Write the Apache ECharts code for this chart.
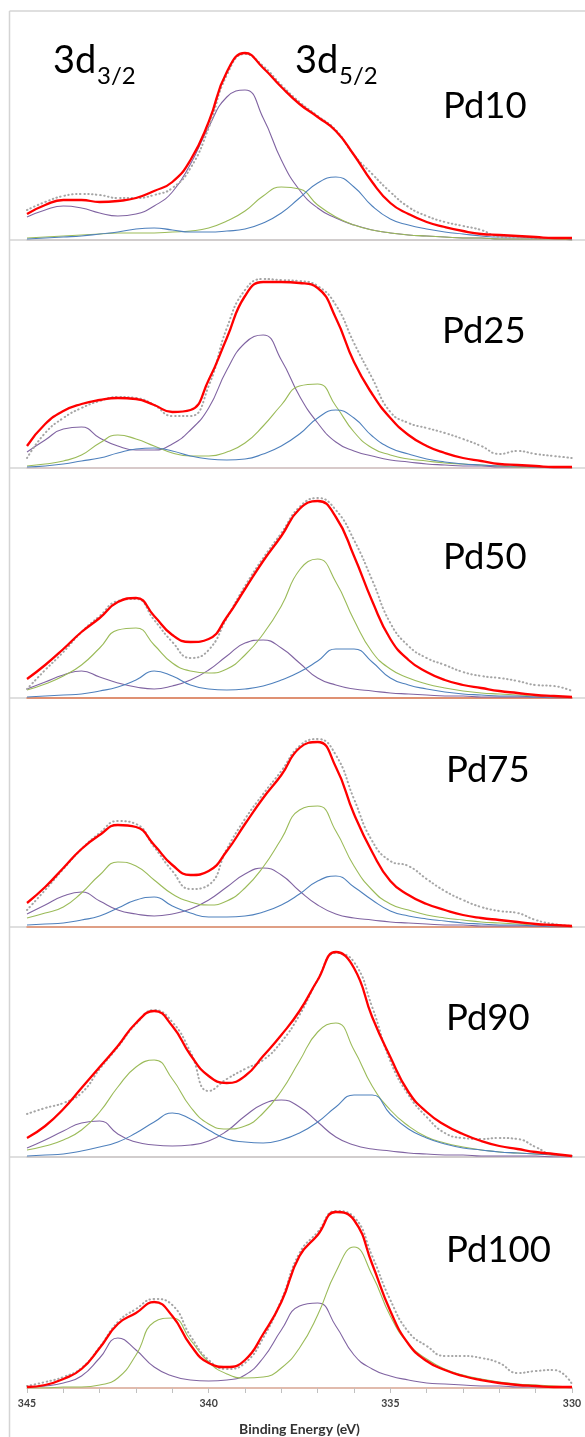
<!DOCTYPE html>
<html><head><meta charset="utf-8">
<script src="https://cdn.jsdelivr.net/npm/echarts@6/dist/echarts.min.js"></script>
<style>html,body{margin:0;padding:0;background:#fff}#c{width:585px;height:1437px}</style>
</head><body><div id="c"></div>
<script>
// Binding energy grid (eV)
const energy = [345,344.5,344,343.5,343,342.5,342,341.5,341,340.5,340,339.5,339,338.5,338,337.5,337,336.5,336,335.5,335,334.5,334,333.5,333,332.5,332,331.5,331,330.5,330];
const panelLabels = ['Pd10','Pd25','Pd50','Pd75','Pd90','Pd100'];

// Pd10
const pd10_fit    = [26,35,40,40,38,39,42,49,58,80,118,168,187,172,153,136,123,109,85,58,37,26,18,13,9,6,5,4,3,2,2];
const pd10_data   = [30,38,44,46,45,42,42,45,52,72,112,165,186,174,155,138,124,110,85,66,48,33,24,18,14,10,3,2,2,2,2];
const pd10_purple = [23,30,34,32,27,24,26,34,48,76,113,143,150,122,80,50,32,22,15,10,7,5,4,3,2,2,1,1,1,1,0];
const pd10_green  = [2,3,4,5,6,7,7,7,8,9,12,19,29,44,53,51,35,23,15,10,7,5,4,3,2,2,1,1,1,1,0];
const pd10_blue   = [1,2,3,4,6,8,11,12,10,8,8,9,11,17,27,42,57,63,53,34,21,15,11,8,6,4,3,3,2,2,1];
// Pd25
const pd25_fit    = [22,44,57,64,68,70,69,63,56,58,88,130,172,186,186,185,180,150,106,74,50,33,22,15,10,7,4,3,2,1,1];
const pd25_data   = [10,35,50,60,67,71,70,63,52,52,82,140,178,189,188,187,182,163,125,90,56,45,40,35,29,22,14,17,14,12,10];
const pd25_purple = [16,28,39,41,30,22,18,18,24,38,60,98,125,133,108,72,45,26,17,12,8,6,4,3,2,2,1,1,1,0,0];
const pd25_green  = [2,4,7,13,25,33,29,22,15,12,12,16,25,42,63,82,84,62,36,20,13,9,7,5,4,3,2,1,1,1,0];
const pd25_blue   = [1,2,4,7,10,15,19,20,17,12,9,8,9,14,22,34,50,58,50,32,20,14,9,6,4,3,2,2,1,1,1];
// Pd50
const pd50_fit    = [19,33,49,66,80,96,100,82,63,56,59,81,109,137,162,189,197,181,142,97,59,38,26,18,13,10,7,5,3,2,1];
const pd50_data   = [9,28,46,66,82,97,99,78,56,40,48,80,112,140,165,191,200,188,158,118,75,52,40,33,26,22,20,17,13,12,7];
const pd50_purple = [9,16,23,27,21,15,11,9,12,18,28,42,55,58,50,35,20,13,9,7,5,4,3,2,2,1,1,1,1,0,0];
const pd50_green  = [8,14,22,33,50,68,70,53,35,27,25,29,43,64,92,128,139,116,78,46,29,20,14,10,7,5,4,3,2,1,1];
const pd50_blue   = [1,2,3,4,7,11,18,27,22,13,9,8,9,12,18,26,37,49,49,36,20,13,9,6,4,3,2,2,1,1,1];
// Pd75
const pd75_fit    = [24,40,59,78,92,102,100,82,62,52,56,76,103,129,152,179,185,160,113,75,46,32,23,17,12,9,7,5,3,2,1];
const pd75_data   = [17,37,58,78,94,106,103,80,56,38,42,78,108,133,156,181,188,172,128,86,66,61,48,36,27,20,16,14,7,3,1];
const pd75_purple = [13,22,31,35,26,17,13,11,13,18,27,40,53,59,52,36,22,13,9,7,5,4,3,2,2,1,1,1,1,0,0];
const pd75_green  = [9,14,20,34,52,65,61,47,33,25,22,26,39,60,88,117,121,96,61,37,23,17,12,9,7,5,4,3,2,1,1];
const pd75_blue   = [2,3,4,7,11,19,27,30,21,14,10,10,11,15,22,33,46,51,40,27,16,11,8,6,4,3,2,2,1,1,1];
// Pd90
const pd90_fit    = [19,31,48,69,90,111,134,146,131,102,81,74,81,101,122,146,177,205,189,140,100,65,45,32,23,16,11,8,5,3,1];
const pd90_data   = [43,49,54,64,88,110,133,147,135,105,66,78,88,97,115,142,177,204,195,150,96,62,40,24,19,18,19,18,10,2,1];
const pd90_purple = [9,17,26,34,36,23,15,12,11,12,16,26,41,53,57,50,35,20,12,8,6,4,3,2,2,1,1,1,1,0,0];
const pd90_green  = [7,11,17,27,45,70,90,97,78,50,33,28,31,44,66,96,125,134,107,71,47,31,20,14,10,7,5,4,3,2,1];
const pd90_blue   = [1,2,3,6,10,15,24,35,44,38,27,18,15,14,17,24,35,50,62,62,43,28,19,13,9,7,5,4,3,2,1];
// Pd100
const pd100_fit    = [1,3,9,19,40,64,75,86,72,43,25,21,28,54,86,132,153,176,168,124,77,44,27,18,12,8,5,3,2,1,1];
const pd100_data   = [2,6,11,20,41,66,79,89,83,52,28,19,25,50,88,135,156,177,171,132,88,56,42,32,32,30,25,15,17,18,4];
const pd100_purple = [1,2,5,12,30,50,38,21,12,8,7,8,13,30,58,82,85,62,33,19,12,8,5,4,3,2,2,1,1,1,0];
const pd100_green  = [0,0,1,1,3,10,33,66,70,48,26,14,10,11,20,40,73,116,141,113,72,44,29,19,13,9,6,4,3,2,1];

const panels = [
  {fit:pd10_fit, data:pd10_data, comps:[pd10_purple,pd10_green,pd10_blue]},
  {fit:pd25_fit, data:pd25_data, comps:[pd25_purple,pd25_green,pd25_blue]},
  {fit:pd50_fit, data:pd50_data, comps:[pd50_purple,pd50_green,pd50_blue]},
  {fit:pd75_fit, data:pd75_data, comps:[pd75_purple,pd75_green,pd75_blue]},
  {fit:pd90_fit, data:pd90_data, comps:[pd90_purple,pd90_green,pd90_blue]},
  {fit:pd100_fit, data:pd100_data, comps:[pd100_purple,pd100_green]}
];

const compColors = ['#8064a2','#9bbb59','#4f81bd'];
const baselines = [240,468,698,927,1157,1388];
const PH = 229;
const axisColors = ['#cdc8c8','#d6c4c4','#e07850','#e08a68','#cdc8c8','#d8a592'];
const FONT = 'Lato, "Open Sans", sans-serif';

const grids=[], xAxes=[], yAxes=[], series=[];
panels.forEach((p,i)=>{
  grids.push({left:27, width:545, top:baselines[i]-PH, height:PH});
  const bottom = i===panels.length-1;
  xAxes.push({gridIndex:i, type:'value', min:330, max:345, interval:1, inverse:true,
    axisLine:{show:true, onZero:false, lineStyle:{color:axisColors[i], width:1.5}},
    axisTick:{show:bottom, length:5, lineStyle:{color:'#c0c0c0'}},
    axisLabel:{show:bottom, margin:10, fontSize:10.5, fontWeight:'bold', color:'#404040', fontFamily:FONT,
      formatter:v=> (v%5===0? String(v):'')},
    splitLine:{show:false},
    name: bottom?'Binding Energy (eV)':'', nameLocation:'middle', nameGap:34,
    nameTextStyle:{fontSize:14, fontWeight:'bold', color:'#333', fontFamily:FONT}
  });
  yAxes.push({gridIndex:i, type:'value', min:0, max:PH, show:false});
  const mk = arr => energy.map((e,k)=>[e,arr[k]]);
  p.comps.forEach((c,j)=>{
    series.push({type:'line', xAxisIndex:i, yAxisIndex:i, data:mk(c), smooth:0.5, showSymbol:false, symbol:'none',
      silent:true, z:2, lineStyle:{color:compColors[j], width:1.1}});
  });
  series.push({type:'line', xAxisIndex:i, yAxisIndex:i, data:mk(p.data), smooth:0.5, showSymbol:false, symbol:'none',
    silent:true, z:3, lineStyle:{color:'#a6a6a6', width:2, type:[0.5,3.5], cap:'round'}});
  series.push({type:'line', xAxisIndex:i, yAxisIndex:i, data:mk(p.fit), smooth:0.5, showSymbol:false, symbol:'none',
    silent:true, z:4, lineStyle:{color:'#ff0000', width:2.3}});
});

const graphics = [];
const lineStyle = {stroke:'#d4d4d4', lineWidth:1.5};
graphics.push({type:'line', z:-10, shape:{x1:9.5,y1:11,x2:9.5,y2:1437}, style:lineStyle});
graphics.push({type:'line', z:-10, shape:{x1:9.5,y1:11,x2:585,y2:11}, style:lineStyle});
baselines.slice(0,5).forEach(b=>{
  graphics.push({type:'line', z:-10, shape:{x1:9.5,y1:b,x2:585,y2:b}, style:lineStyle});
});
const labelPos = [[443,106],[442,331],[443,557],[446,770],[446,1018],[446,1250]];
panelLabels.forEach((t,i)=>{
  graphics.push({type:'text', x:labelPos[i][0], y:labelPos[i][1],
    style:{text:t, fill:'#000', fontSize:36.5, fontFamily:FONT, textAlign:'left', textVerticalAlign:'middle', align:'left', verticalAlign:'middle'}});
});
const peakLabels = [{main:'3d', sub:'3/2', x:53, sx:97},{main:'3d', sub:'5/2', x:295, sx:339}];
peakLabels.forEach(l=>{
  graphics.push({type:'text', x:l.x, y:61, style:{text:l.main, fill:'#000', fontSize:38, fontFamily:FONT, textAlign:'left', textVerticalAlign:'middle', align:'left', verticalAlign:'middle'}});
  graphics.push({type:'text', x:l.sx, y:76, style:{text:l.sub, fill:'#000', fontSize:24, fontFamily:FONT, textAlign:'left', textVerticalAlign:'middle', align:'left', verticalAlign:'middle'}});
});

const chart = echarts.init(document.getElementById('c'), null, {renderer:'canvas'});
chart.setOption({animation:false, backgroundColor:'#fff', grid:grids, xAxis:xAxes, yAxis:yAxes, series, graphic:graphics});
</script></body></html>
